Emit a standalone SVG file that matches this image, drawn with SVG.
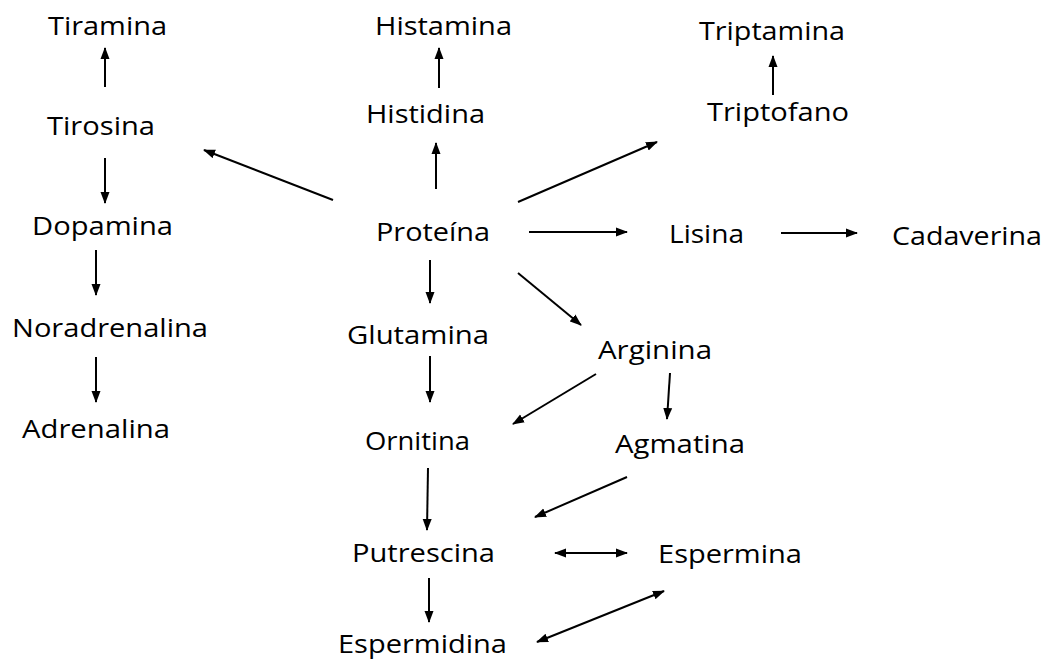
<svg xmlns="http://www.w3.org/2000/svg" width="1046" height="659" viewBox="0 0 1046 659">
<style>
.t{font-family:"Open Sans","Liberation Sans",sans-serif;font-size:25px;fill:#000}
.c line{stroke:#000;stroke-width:2;fill:none;marker-end:url(#ah)}
.c line.b{marker-start:url(#ah)}
</style>
<defs>
<marker id="ah" markerUnits="userSpaceOnUse" markerWidth="12" markerHeight="10" refX="11" refY="4.5" orient="auto-start-reverse" viewBox="0 0 12 9">
<path d="M0,0 L12,4.5 L0,9 z" fill="#000"/>
</marker>
</defs>
<rect width="1046" height="659" fill="#fff"/>
<g id="tiramina"><text class="t" x="48" y="35" textLength="119" lengthAdjust="spacingAndGlyphs">Tiramina</text></g>
<g id="histamina"><text class="t" x="375" y="35" textLength="137" lengthAdjust="spacingAndGlyphs">Histamina</text></g>
<g id="triptamina"><text class="t" x="699" y="40" textLength="146" lengthAdjust="spacingAndGlyphs">Triptamina</text></g>
<g id="tirosina"><text class="t" x="47" y="135" textLength="108" lengthAdjust="spacingAndGlyphs">Tirosina</text></g>
<g id="histidina"><text class="t" x="366" y="123" textLength="119" lengthAdjust="spacingAndGlyphs">Histidina</text></g>
<g id="triptofano"><text class="t" x="707" y="121" textLength="142" lengthAdjust="spacingAndGlyphs">Triptofano</text></g>
<g id="dopamina"><text class="t" x="32" y="235" textLength="141" lengthAdjust="spacingAndGlyphs">Dopamina</text></g>
<g id="proteina"><text class="t" x="376" y="241" textLength="114" lengthAdjust="spacingAndGlyphs">Proteína</text></g>
<g id="lisina"><text class="t" x="669" y="243" textLength="75" lengthAdjust="spacingAndGlyphs">Lisina</text></g>
<g id="cadaverina"><text class="t" x="892" y="245" textLength="150" lengthAdjust="spacingAndGlyphs">Cadaverina</text></g>
<g id="noradrenalina"><text class="t" x="12" y="337" textLength="196" lengthAdjust="spacingAndGlyphs">Noradrenalina</text></g>
<g id="glutamina"><text class="t" x="347" y="344" textLength="142" lengthAdjust="spacingAndGlyphs">Glutamina</text></g>
<g id="arginina"><text class="t" x="598" y="359" textLength="114" lengthAdjust="spacingAndGlyphs">Arginina</text></g>
<g id="adrenalina"><text class="t" x="22" y="438" textLength="148" lengthAdjust="spacingAndGlyphs">Adrenalina</text></g>
<g id="ornitina"><text class="t" x="365" y="450" textLength="105" lengthAdjust="spacingAndGlyphs">Ornitina</text></g>
<g id="agmatina"><text class="t" x="615" y="453" textLength="130" lengthAdjust="spacingAndGlyphs">Agmatina</text></g>
<g id="putrescina"><text class="t" x="352" y="562" textLength="143" lengthAdjust="spacingAndGlyphs">Putrescina</text></g>
<g id="espermina"><text class="t" x="658" y="563" textLength="144" lengthAdjust="spacingAndGlyphs">Espermina</text></g>
<g id="espermidina"><text class="t" x="338" y="653" textLength="169" lengthAdjust="spacingAndGlyphs">Espermidina</text></g>
<g class="c" id="connectors">
<line x1="105" y1="87" x2="105" y2="48"/>
<line x1="105" y1="158" x2="105" y2="203"/>
<line x1="96" y1="250" x2="96" y2="295"/>
<line x1="96" y1="357" x2="96" y2="402"/>
<line x1="333" y1="200" x2="204" y2="150"/>
<line x1="439" y1="88" x2="439" y2="48"/>
<line x1="436" y1="189" x2="436" y2="143"/>
<line x1="773" y1="95" x2="773" y2="56"/>
<line x1="518" y1="202" x2="657" y2="142"/>
<line x1="529" y1="232" x2="627" y2="232"/>
<line x1="781" y1="233" x2="857" y2="233"/>
<line x1="430" y1="260" x2="430" y2="303"/>
<line x1="518" y1="273" x2="581" y2="325"/>
<line x1="430" y1="356" x2="430" y2="402"/>
<line x1="596" y1="374" x2="513" y2="424"/>
<line x1="670" y1="373" x2="667" y2="419"/>
<line x1="428" y1="468" x2="427" y2="530"/>
<line x1="627" y1="477" x2="535" y2="517"/>
<line class="b" x1="555" y1="553" x2="627" y2="553"/>
<line x1="429" y1="578" x2="429" y2="622"/>
<line class="b" x1="537" y1="642" x2="664" y2="591"/>
</g>
</svg>
